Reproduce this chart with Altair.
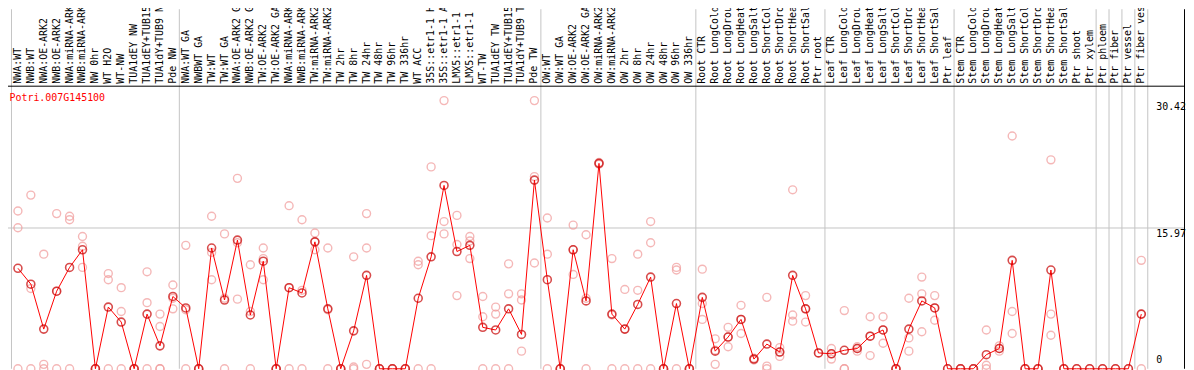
import altair as alt
import pandas as pd

gene_id = "Potri.007G145100"

names = [
    "NWA:WT", "NWB:WT", "NWA:OE-ARK2", "NWB:OE-ARK2", "NWA:miRNA-ARK2", "NWB:miRNA-ARK2",
    "NW 0hr", "WT H2O", "WT-NW", "TUA1dEY NW", "TUA1dEY+TUB15 NW", "TUA1dY+TUB9 NW", "Pde NW",
    "NWA:WT GA", "NWBWT GA", "TW:WT", "TW:WT GA", "NWA:OE-ARK2 GA", "NWB:OE-ARK2 GA",
    "TW:OE-ARK2", "TW:OE-ARK2 GA", "NWA:miRNA-ARK2 GA", "NWB:miRNA-ARK2 GA", "TW:miRNA-ARK2",
    "TW:miRNA-ARK2 GA", "TW 2hr", "TW 8hr", "TW 24hr", "TW 48hr", "TW 96hr", "TW 336hr",
    "WT ACC", "35S::etr1-1 H2O", "35S::etr1-1 ACC", "LMX5::etr1-1 H2O", "LMX5::etr1-1 ACC",
    "WT-TW", "TUA1dEY TW", "TUA1dEY+TUB15 TW", "TUA1dY+TUB9 TW", "Pde TW",
    "OW:WT", "OW:WT GA", "OW:OE-ARK2", "OW:OE-ARK2 GA", "OW:miRNA-ARK2", "OW:miRNA-ARK2 GA",
    "OW 2hr", "OW 8hr", "OW 24hr", "OW 48hr", "OW 96hr", "OW 336hr",
    "Root CTR", "Root LongCold", "Root LongDrought", "Root LongHeat", "Root LongSalt",
    "Root ShortCold", "Root ShortDrought", "Root ShortHeat", "Root ShortSalt", "Ptr root",
    "Leaf CTR", "Leaf LongCold", "Leaf LongDrought", "Leaf LongHeat", "Leaf LongSalt",
    "Leaf ShortCold", "Leaf ShortDrought", "Leaf ShortHeat", "Leaf ShortSalt", "Ptr leaf",
    "Stem CTR", "Stem LongCold", "Stem LongDrought", "Stem LongHeat", "Stem LongSalt",
    "Stem ShortCold", "Stem ShortDrought", "Stem ShortHeat", "Stem ShortSalt", "Ptr shoot",
    "Ptr xylem", "Ptr phloem", "Ptr fiber", "Ptr vessel", "Ptr fiber vessel",
]

group_sizes = [13, 28, 12, 10, 10, 11, 1, 1, 1, 1]

means = [
    11.4, 9.6, 4.5, 8.8, 11.5, 13.5, 0.0, 7.0, 5.3, 0.0, 6.2, 2.6, 8.2,
    6.9, 0.0, 13.7, 7.8, 14.6, 6.1, 12.2, 0.0, 9.2, 8.6, 14.4, 6.8, 0.0, 4.3, 10.6,
    0.0, 0.0, 0.0, 8.0, 12.7, 20.8, 13.3, 14.0, 4.7, 4.4, 6.8, 3.9, 21.4,
    10.1, 0.0, 13.5, 7.7, 23.3, 6.2, 4.5, 7.3, 10.4, 0.0, 7.4, 0.0,
    8.1, 2.0, 3.6, 5.6, 1.1, 2.8, 1.9, 10.6, 6.8, 1.8,
    1.7, 2.1, 2.3, 3.7, 4.4, 0.0, 4.5, 7.7, 6.9, 0.0,
    0.0, 0.0, 1.6, 2.3, 12.3, 0.0, 0.0, 11.2, 0.0, 0.0, 0.0,
    0.0, 0.0, 0.0, 6.2,
]

replicates = [
    [17.9, 16.0, 0], [19.7, 9.1, 0], [13.0, 0.5, 0], [17.6, 8.8, 0], [17.3, 16.9, 0],
    [13.9, 11.5, 15.0], [0, 0, 0], [10.8, 10.1, 0], [9.2, 6.5, 0], [0, 0, 0],
    [11.0, 7.5, 0], [6.2, 4.8, 0, 0], [9.5, 8.0, 6.8],
    [14.0, 6.7, 0], [0, 0, 0], [17.3, 13.2, 10.1], [15.3, 8.0, 0], [21.6, 14.3, 7.9],
    [11.8, 6.5, 0], [13.7, 12.5, 10.1], [0, 0, 0], [18.5, 9.2, 0], [16.9, 8.9, 0],
    [15.4, 14.4, 13.5], [13.7, 6.7, 0], [0, 0, 0], [12.7, 0.2, 0], [17.6, 13.7, 0.5],
    [0, 0, 0], [0, 0, 0], [0, 0, 0], [12.2, 11.8, 0], [22.9, 15.1, 0],
    [30.42, 16.7, 15.3], [14.1, 8.3, 17.4], [15.0, 14.5, 12.5], [8.2, 5.9, 0],
    [6.2, 7.0, 0], [11.9, 8.5, 0], [8.5, 7.8, 2.0], [30.42, 12.0, 21.8],
    [17.1, 13.0, 0], [0, 0, 0], [16.3, 10.7, 13.5], [15.2, 8.0, 0], [23.3, 23.4, 23.2],
    [12.5, 6.1, 0], [9.0, 4.5, 0], [8.9, 13.0, 0], [16.7, 14.3, 0], [0, 0, 0],
    [11.5, 11.2, 0], [0, 0, 0],
    [11.3, 5.6, 7.4], [3.4, 2.1, 0.5], [4.7, 3.6, 2.5], [7.2, 5.6, 4.0], [1.1, 1.2, 1.0],
    [8.1, 0.3, 0], [1.9, 2.4, 1.4], [20.3, 6.1, 5.4], [8.3, 6.8, 5.3], [1.8],
    [2.3, 1.7, 1.1], [6.6, 0, 0], [2.3, 2.5, 2.0], [5.9, 3.7, 1.5], [5.9, 4.4, 2.9],
    [0, 0, 0], [8.0, 3.5, 2.0], [10.4, 8.5, 4.2], [8.3, 6.9, 5.5], [0],
    [0, 0, 0], [0, 0, 0], [4.4, 0.4, 0], [2.3, 2.0, 2.6], [26.4, 6.5, 4.0],
    [0, 0, 0], [0, 0, 0], [23.7, 6.2, 3.8], [0, 0, 0], [0], [0],
    [0], [0], [0], [12.3, 6.2, 0],
]

y_ticks = [0, 15.97, 30.42]

# ---------------- tables built from the arrays ----------------
idx = list(range(1, len(names) + 1))
df_mean = pd.DataFrame({"idx": idx, "name": names, "mean": means})
rep_rows = [{"idx": i + 1, "value": v} for i, vals in enumerate(replicates) for v in vals]
df_rep = pd.DataFrame(rep_rows)

bounds = [0.5]
acc = 0
for g in group_sizes:
    acc += g
    bounds.append(acc + 0.5)
df_bound = pd.DataFrame({"pos": bounds})
df_ticks = pd.DataFrame({"tick": y_ticks, "label": [("%g" % t) for t in y_ticks]})
df_grid = pd.DataFrame({"tick": [y_ticks[1]]})
df_gene = pd.DataFrame({"gene": [gene_id]})

W, H = 1186, 362
xs = alt.Scale(domain=[1, 88], range=[10, 1141], nice=False, zero=False)
ys = alt.Scale(domain=[0, 30.42], range=[362, 92], nice=False, zero=False)

X = lambda f: alt.X(f, type="quantitative", scale=xs, axis=None)
Y = lambda f: alt.Y(f, type="quantitative", scale=ys, axis=None)

vlines = alt.Chart(df_bound).mark_rule(color="#c4c4c4", strokeWidth=1).encode(
    x=X("pos"), y=alt.value(0), y2=alt.value(H)
)
grid = alt.Chart(df_grid).mark_rule(color="#c4c4c4", strokeWidth=1).encode(
    y=Y("tick"), x=alt.value(0), x2=alt.value(1184.5)
)
reps = alt.Chart(df_rep).mark_point(
    shape="circle", filled=False, size=64, color="#f19a9a", strokeWidth=1.4
).encode(x=X("idx"), y=Y("value"))
line = alt.Chart(df_mean).mark_line(color="#ff0000", strokeWidth=1).encode(
    x=X("idx"), y=Y("mean")
)
pts = alt.Chart(df_mean).mark_point(
    shape="circle", filled=False, size=64, color="#c80000", strokeWidth=1.6
).encode(x=X("idx"), y=Y("mean"))
header = alt.Chart(df_mean).mark_text(
    angle=270, align="left", baseline="middle", font="DejaVu Sans Mono",
    fontSize=10, color="black"
).encode(x=X("idx"), y=alt.value(75), text="name:N")
hline = alt.Chart(df_gene).mark_rule(color="black", strokeWidth=1).encode(
    x=alt.value(0), x2=alt.value(1184.5), y=alt.value(77.5)
)
rborder = alt.Chart(df_gene).mark_rule(color="black", strokeWidth=1).encode(
    x=alt.value(1184.5), y=alt.value(0), y2=alt.value(H)
)
gene = alt.Chart(df_gene).mark_text(
    align="left", baseline="middle", font="DejaVu Sans Mono", fontSize=10, color="#ff0000"
).encode(x=alt.value(1.5), y=alt.value(89), text="gene:N")
ylab_top = alt.Chart(df_ticks).transform_filter("datum.tick > 0").mark_text(
    align="left", baseline="top", font="DejaVu Sans Mono", fontSize=10, color="black", dy=1
).encode(x=alt.value(1156), y=Y("tick"), text="label:N")
ylab_zero = alt.Chart(df_ticks).transform_filter("datum.tick == 0").mark_text(
    align="left", baseline="bottom", font="DejaVu Sans Mono", fontSize=10, color="black", dy=-4
).encode(x=alt.value(1156), y=Y("tick"), text="label:N")

chart = alt.layer(
    vlines, grid, reps, line, pts, header, hline, rborder, gene, ylab_top, ylab_zero
).properties(
    width=W, height=H, padding=0, autosize=alt.AutoSizeParams(type="none")
).configure_view(strokeWidth=0)

chart.save("out.html", embed_options={"renderer": "svg", "actions": False})
